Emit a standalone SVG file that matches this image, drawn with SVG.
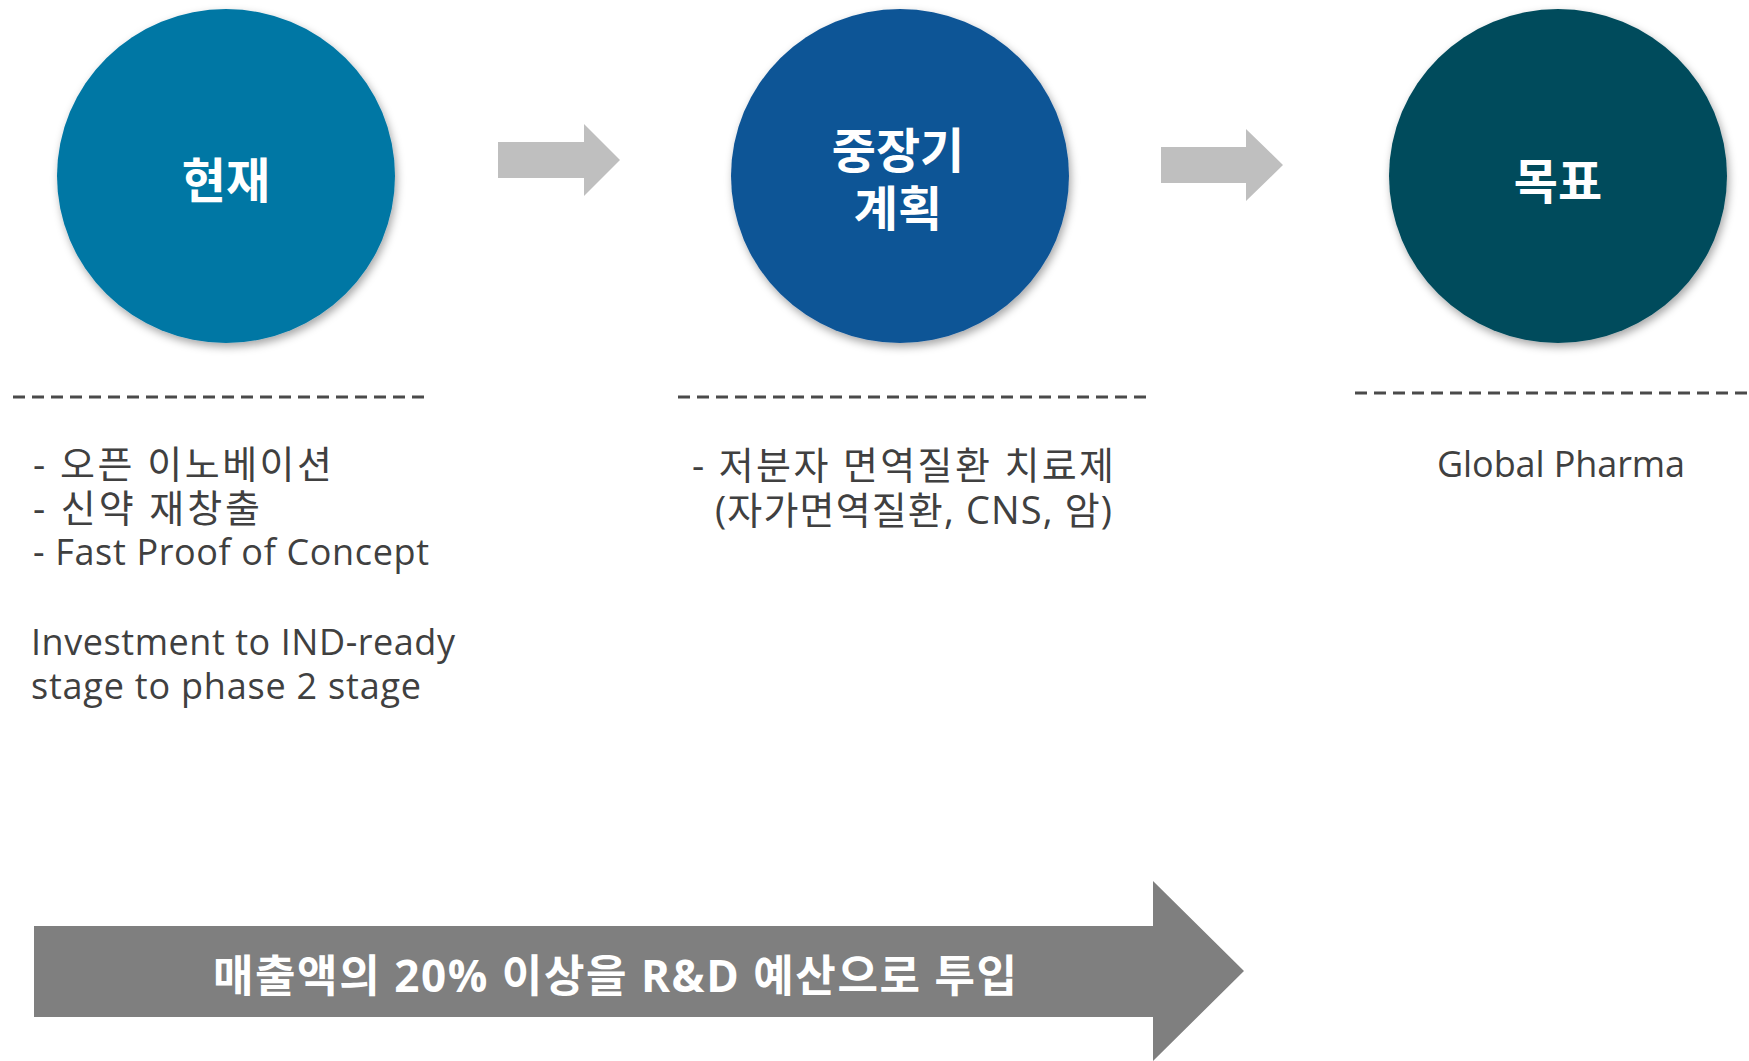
<svg xmlns="http://www.w3.org/2000/svg" width="1749" height="1061" viewBox="0 0 1749 1061">
  <style>
    .title { font-family: "Noto Sans CJK KR", sans-serif; font-weight: 700; font-size: 48px; fill: #FFFFFF; text-anchor: middle; }
    .body { font-family: "Open Sans", "Noto Sans CJK KR", sans-serif; font-size: 36px; fill: #404040; }
    .ko { font-size: 38px; }
    .dash { stroke: #4A4A4A; stroke-width: 3; stroke-dasharray: 12 7; fill: none; }
    .step { fill: #BFBFBF; }
    .banner { fill: #7F7F7F; }
    .bannertext { font-family: "Open Sans", "Noto Sans CJK KR", sans-serif; font-weight: 700; font-size: 44px; fill: #FFFFFF; }
  </style>
  <defs>
    <filter id="shadow" x="-20%" y="-20%" width="140%" height="140%">
      <feDropShadow dx="2" dy="4" stdDeviation="4" flood-color="#000000" flood-opacity="0.35"/>
    </filter>
  </defs>
  <rect width="1749" height="1061" fill="#FFFFFF"/>

  <g id="connectors">
    <polygon class="step" points="498,142 584,142 584,124 620,160 584,196 584,178 498,178"/>
    <polygon class="step" points="1161,147 1246,147 1246,129 1283,165 1246,201 1246,183 1161,183"/>
  </g>

  <g id="node-current">
    <ellipse cx="226" cy="176" rx="169" ry="167" fill="#0277A4" filter="url(#shadow)"/>
    <text class="title" x="226" y="198">현재</text>
  </g>

  <g id="node-midterm">
    <ellipse cx="900" cy="176" rx="169" ry="167" fill="#0F5496" filter="url(#shadow)"/>
    <text class="title" x="898" y="168">중장기</text>
    <text class="title" x="898" y="226">계획</text>
  </g>

  <g id="node-goal">
    <ellipse cx="1558" cy="176" rx="169" ry="167" fill="#044B5C" filter="url(#shadow)"/>
    <text class="title" x="1558" y="199">목표</text>
  </g>

  <g id="dividers">
    <line class="dash" x1="13" y1="397" x2="427" y2="397"/>
    <line class="dash" x1="678" y1="397" x2="1146" y2="397"/>
    <line class="dash" x1="1355" y1="393" x2="1749" y2="393"/>
  </g>

  <g id="text-current">
    <text class="body ko" x="33" y="478" textLength="299">- 오픈 이노베이션</text>
    <text class="body ko" x="33" y="522" textLength="227">- 신약 재창출</text>
    <text class="body" x="33" y="565" textLength="396">- Fast Proof of Concept</text>
    <text class="body" x="31" y="655" textLength="424">Investment to IND-ready</text>
    <text class="body" x="31" y="699" textLength="390">stage to phase 2 stage</text>
  </g>

  <g id="text-midterm">
    <text class="body ko" x="692" y="479" textLength="422">- 저분자 면역질환 치료제</text>
    <text class="body ko" x="715" y="524" textLength="397">(자가면역질환, CNS, 암)</text>
  </g>

  <g id="text-goal">
    <text class="body" x="1437" y="477" textLength="248">Global Pharma</text>
  </g>

  <g id="banner">
    <polygon class="banner" points="34,926 1153,926 1153,881 1244,971 1153,1061 1153,1017 34,1017"/>
    <text class="bannertext" x="213" y="992" textLength="804">매출액의 20% 이상을 R&amp;D 예산으로 투입</text>
  </g>
</svg>
